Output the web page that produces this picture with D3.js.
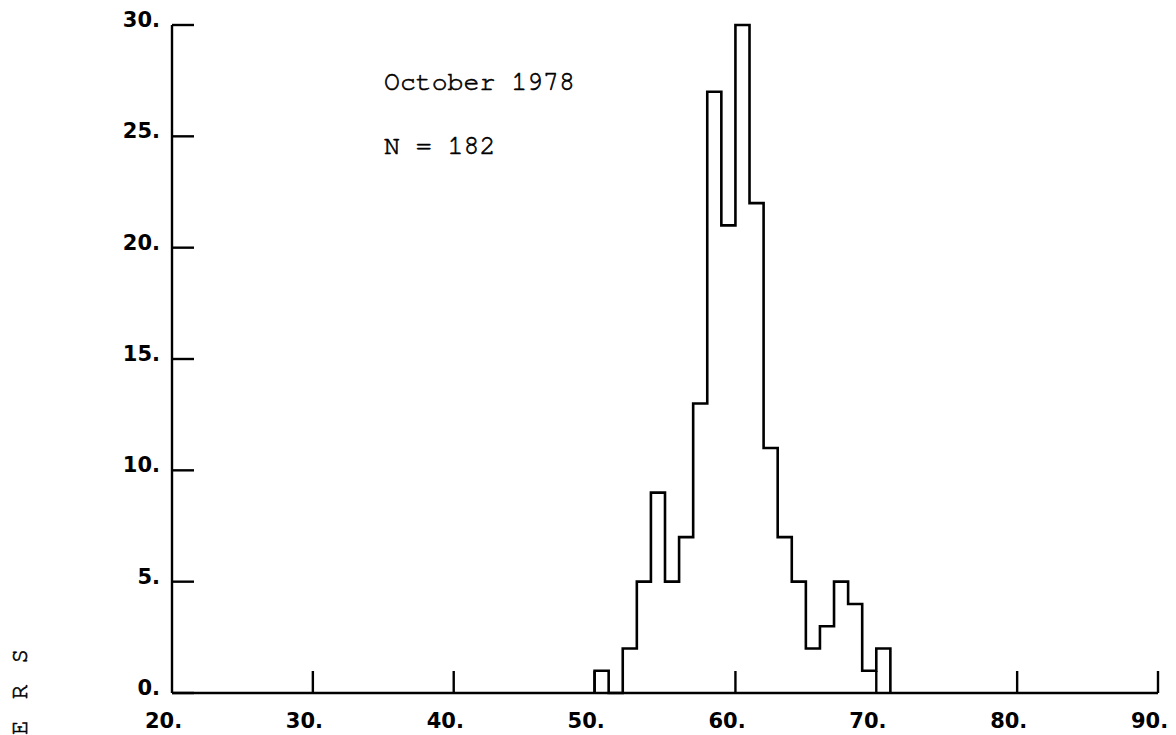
<!DOCTYPE html>
<html>
<head>
<meta charset="utf-8">
<script src="https://cdn.jsdelivr.net/npm/d3@7"></script>
<style>
  html, body { margin: 0; padding: 0; background: #fff; }
  svg { display: block; }
  .tick-label { font-family: "DejaVu Sans", sans-serif; font-weight: bold; font-size: 21px; }
  .note { font-family: "Nimbus Mono PS", "Nimbus Mono L", "FreeMono", "Courier New", "Courier", "Liberation Mono", monospace; font-size: 26.5px; stroke: #000; stroke-width: 0.6px; }
</style>
</head>
<body>
<svg id="chart" width="1176" height="735"></svg>
<script>
// Histogram of counts per 1-unit class, October 1978 (N = 182)
const binLower = [50, 51, 52, 53, 54, 55, 56, 57, 58, 59, 60, 61, 62, 63, 64, 65, 66, 67, 68, 69, 70];
const counts   = [ 1,  0,  2,  5,  9,  5,  7, 13, 27, 21, 30, 22, 11,  7,  5,  2,  3,  5,  4,  1,  2];
const binWidth = 1;

const xTicks = [20, 30, 40, 50, 60, 70, 80, 90];
const yTicks = [0, 5, 10, 15, 20, 25, 30];
const notes = ["October 1978", "N = 182"];
const sideLabel = "E R S";

const svg = d3.select("#chart");

const x = d3.scaleLinear().domain([20, 90]).range([172, 1158]);
const y = d3.scaleLinear().domain([0, 30]).range([693, 25]);

const ink = "#000";
const axisWidth = 2.4;
const tickLen = 22;

// frame: left and bottom axes
svg.append("line")
  .attr("x1", x(20)).attr("x2", x(20))
  .attr("y1", y(30)).attr("y2", y(0))
  .attr("stroke", ink).attr("stroke-width", axisWidth);
svg.append("line")
  .attr("x1", x(20)).attr("x2", x(90))
  .attr("y1", y(0)).attr("y2", y(0))
  .attr("stroke", ink).attr("stroke-width", axisWidth);

// y ticks point inward
svg.selectAll(".ytick").data(yTicks).join("line")
  .attr("class", "ytick")
  .attr("x1", x(20)).attr("x2", x(20) + tickLen)
  .attr("y1", d => y(d)).attr("y2", d => y(d))
  .attr("stroke", ink).attr("stroke-width", axisWidth);

svg.selectAll(".ylab").data(yTicks).join("text")
  .attr("class", "ylab tick-label")
  .attr("x", 160)
  .attr("y", d => y(d) + 2)
  .attr("text-anchor", "end")
  .attr("fill", ink)
  .text(d => d + ".");

// x ticks point inward
svg.selectAll(".xtick").data(xTicks.filter(d => d > 20)).join("line")
  .attr("class", "xtick")
  .attr("x1", d => x(d)).attr("x2", d => x(d))
  .attr("y1", y(0)).attr("y2", y(0) - tickLen)
  .attr("stroke", ink).attr("stroke-width", axisWidth);

svg.selectAll(".xlab").data(xTicks).join("text")
  .attr("class", "xlab tick-label")
  .attr("x", d => x(d) - 27)
  .attr("y", 728)
  .attr("text-anchor", "start")
  .attr("fill", ink)
  .text(d => d + ".");

// histogram outline as one stepped path
const pts = [[binLower[0], 0]];
binLower.forEach((lo, i) => {
  pts.push([lo, counts[i]]);
  pts.push([lo + binWidth, counts[i]]);
});
pts.push([binLower[binLower.length - 1] + binWidth, 0]);

const line = d3.line().x(d => x(d[0])).y(d => y(d[1]));
svg.append("path")
  .attr("d", line(pts))
  .attr("fill", "none")
  .attr("stroke", ink)
  .attr("stroke-width", 2.6)
  .attr("stroke-linejoin", "miter");

// annotations
svg.selectAll(".note").data(notes).join("text")
  .attr("class", "note")
  .attr("x", 384)
  .attr("y", (d, i) => 90 + i * 64)
  .attr("fill", ink)
  .text(d => d);

// vertical side label
svg.append("text")
  .attr("class", "note")
  .attr("transform", "translate(27,735) rotate(-90)")
  .attr("text-anchor", "start")
  .style("font-size", "24px")
  .style("letter-spacing", "3.5px")
  .attr("fill", ink)
  .text(sideLabel);
</script>
</body>
</html>
